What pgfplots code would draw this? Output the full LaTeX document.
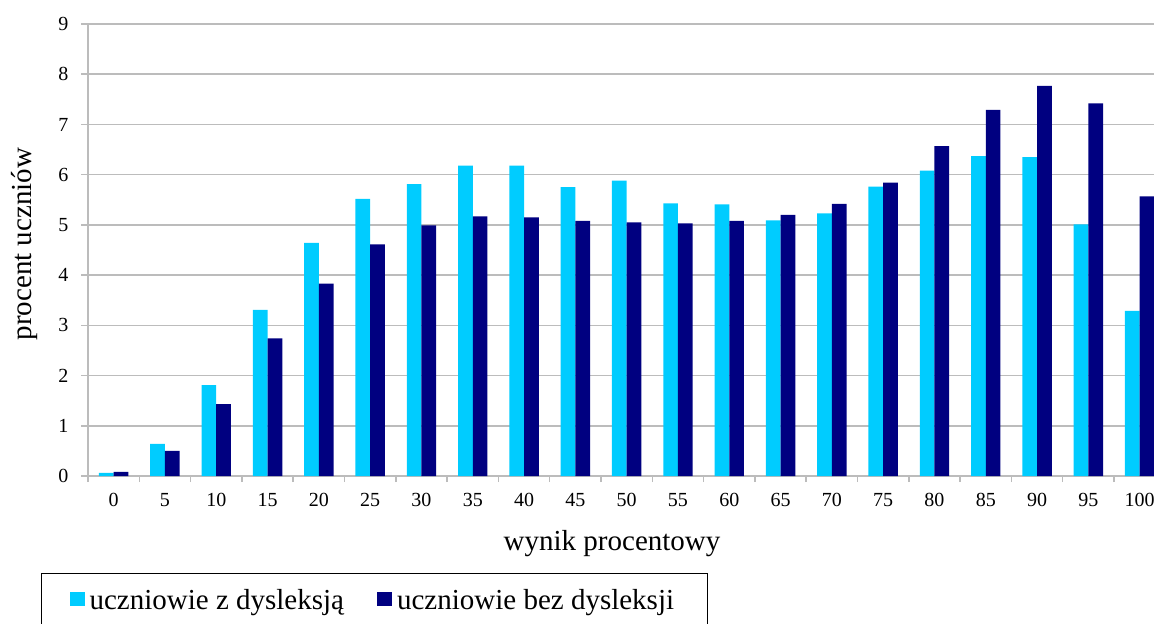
\documentclass[border=0pt]{standalone}
\usepackage{fontspec}
\setmainfont{Liberation Serif}
\usepackage{pgfplots}
\usepackage{pgfplotstable}
\pgfplotsset{compat=1.18}
\definecolor{zdys}{RGB}{0,204,255}
\definecolor{bezdys}{RGB}{0,0,128}
\definecolor{siatka}{RGB}{188,188,188}

% wynik procentowy -> procent uczniow
\pgfplotstableread{
idx wynik zdys bezdys
0   0    0.06 0.08
1   5    0.64 0.50
2   10   1.81 1.43
3   15   3.31 2.74
4   20   4.64 3.83
5   25   5.52 4.61
6   30   5.81 4.99
7   35   6.18 5.17
8   40   6.18 5.15
9   45   5.75 5.08
10  50   5.88 5.05
11  55   5.43 5.03
12  60   5.41 5.08
13  65   5.09 5.20
14  70   5.23 5.42
15  75   5.76 5.84
16  80   6.08 6.57
17  85   6.37 7.29
18  90   6.35 7.77
19  95   5.01 7.42
20  100  3.29 5.57
}\dane

\begin{document}
\begin{tikzpicture}
\useasboundingbox (-44pt,-73.5pt) rectangle (533pt,238pt);
\clip (-44pt,-73.5pt) rectangle (533pt,238pt);
\begin{axis}[
    scale only axis,
    width=533pt, height=226pt,
    xmin=-0.5, xmax=20.28,
    ymin=0, ymax=9,
    ybar=0pt,
    bar width=7.35pt,
    axis x line*=bottom,
    axis y line*=left,
    axis line style={siatka, line width=0.75pt},
    ytick={0,...,9},
    xtick={0,...,20},
    xticklabels={0,5,10,15,20,25,30,35,40,45,50,55,60,65,70,75,80,85,90,95,100},
    minor xtick={-0.5,0.5,...,19.5},
    major x tick style={draw=none},
    tick align=outside,
    major tick length=3.3pt,
    minor tick length=3pt,
    tick style={siatka, line width=0.75pt},
    ymajorgrids,
    grid style={siatka, line width=0.75pt},
    /pgf/number format/assume math mode=true,
    tick label style={font=\fontsize{10}{12}\selectfont, black},
    yticklabel style={xshift=-3pt},
    xticklabel style={yshift=-2pt},
    xlabel={wynik procentowy},
    ylabel={procent uczniów},
    label style={font=\fontsize{14.5}{17}\selectfont},
    xlabel style={at={(axis description cs:0.4916,-0.1637)}, anchor=base},
    ylabel style={at={(axis description cs:-0.060,0.513)}, anchor=center, rotate=0},
    legend columns=2,
    legend style={
        at={(axis description cs:-0.0441,-0.2146)}, anchor=north west,
        draw=black, line width=0.6pt,
        font=\fontsize{14.5}{17}\selectfont,
        inner xsep=14pt, inner ysep=6pt,
        nodes={inner xsep=2.5pt},
        /tikz/every even column/.append style={column sep=14pt},
    },
]
\addplot[fill=zdys, draw=none,
    legend image code/.code={\fill[zdys] (0pt,-0.25em) rectangle (7.5pt,7pt-0.25em);}]
    table[x=idx, y=zdys] {\dane};
\addlegendentry{uczniowie z dysleksją}
\addplot[fill=bezdys, draw=none,
    legend image code/.code={\fill[bezdys] (0pt,-0.25em) rectangle (7.5pt,7pt-0.25em);}]
    table[x=idx, y=bezdys] {\dane};
\addlegendentry{uczniowie bez dysleksji}
\end{axis}
\end{tikzpicture}
\end{document}
